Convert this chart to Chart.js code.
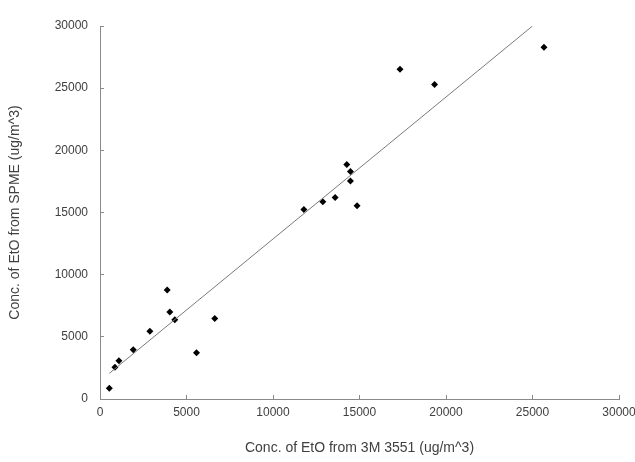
<!DOCTYPE html>
<html>
<head>
<meta charset="utf-8">
<script src="https://cdn.jsdelivr.net/npm/chart.js@4.4.1/dist/chart.umd.min.js"></script>
<style>
  html, body { margin: 0; padding: 0; background: #ffffff; }
  #wrap { width: 635px; height: 462px; }
</style>
</head>
<body>
<div id="wrap"><canvas id="c" width="635" height="462"></canvas></div>
<script>
// Measured points: 3M 3551 (x) vs SPME (y), ug/m^3
const xValues = [537, 865, 1096, 1922, 2884, 3883, 4037, 4325, 5577, 6632, 11785, 12880, 13590, 14265, 14475, 14475, 14860, 17340, 19340, 25663];
const yValues = [860, 2548, 3079, 3965, 5442, 8762, 6994, 6377, 3725, 6484, 15250, 15860, 16210, 18870, 18300, 17530, 15540, 26530, 25300, 28296];
// Linear trend line endpoints (clipped at axis max)
const trendX = [537, 25000];
const trendY = [2060, 30000];
const xTicks = [0, 5000, 10000, 15000, 20000, 25000, 30000];
const yTicks = [0, 5000, 10000, 15000, 20000, 25000, 30000];
const xTitle = 'Conc. of EtO from 3M 3551 (ug/m^3)';
const yTitle = 'Conc. of EtO from SPME (ug/m^3)';

const points = xValues.map((x, i) => ({ x: x, y: yValues[i] }));
const trend = trendX.map((x, i) => ({ x: x, y: trendY[i] }));

const FONT = 'Liberation Sans, Arial, sans-serif';
const textColor = '#404040';
const axisColor = '#8a8a8a';

new Chart(document.getElementById('c'), {
  type: 'scatter',
  data: {
    datasets: [
      {
        label: 'Trend',
        data: trend,
        showLine: true,
        borderColor: '#7a7a7a',
        borderWidth: 1,
        pointRadius: 0,
        fill: false
      },
      {
        label: 'EtO',
        data: points,
        pointStyle: 'rectRot',
        pointRadius: 3.5,
        backgroundColor: '#000000',
        borderColor: '#000000',
        borderWidth: 0
      }
    ]
  },
  options: {
    responsive: false,
    animation: false,
    layout: { padding: { left: 0, right: 16, top: 26, bottom: 0 } },
    plugins: { legend: { display: false }, tooltip: { enabled: false } },
    scales: {
      x: {
        type: 'linear',
        min: 0, max: 30000,
        afterBuildTicks: s => { s.ticks = xTicks.map(v => ({ value: v })); },
        afterFit: s => { s.height = 63; s.paddingLeft = 0; s.paddingRight = 0; },
        border: { display: true, color: axisColor, width: 1 },
        grid: { drawOnChartArea: false, drawTicks: true, tickLength: -4, color: axisColor },
        ticks: {
          padding: 10,
          color: textColor,
          font: { family: FONT, size: 12 },
          maxRotation: 0,
          callback: v => String(v)
        },
        title: {
          display: true,
          text: xTitle,
          color: textColor,
          font: { family: FONT, size: 14 },
          padding: { top: 0, bottom: 5 }
        }
      },
      y: {
        type: 'linear',
        min: 0, max: 30000,
        afterBuildTicks: s => { s.ticks = yTicks.map(v => ({ value: v })); },
        afterFit: s => { s.width = 100; s.paddingTop = 0; s.paddingBottom = 0; },
        border: { display: true, color: axisColor, width: 1 },
        grid: { drawOnChartArea: false, drawTicks: true, tickLength: -4, color: axisColor },
        ticks: {
          padding: 16,
          color: textColor,
          font: { family: FONT, size: 12 },
          callback: v => String(v)
        },
        title: {
          display: true,
          text: yTitle,
          color: textColor,
          font: { family: FONT, size: 14 },
          padding: { top: 7, bottom: 0 }
        }
      }
    }
  }
});
</script>
</body>
</html>
